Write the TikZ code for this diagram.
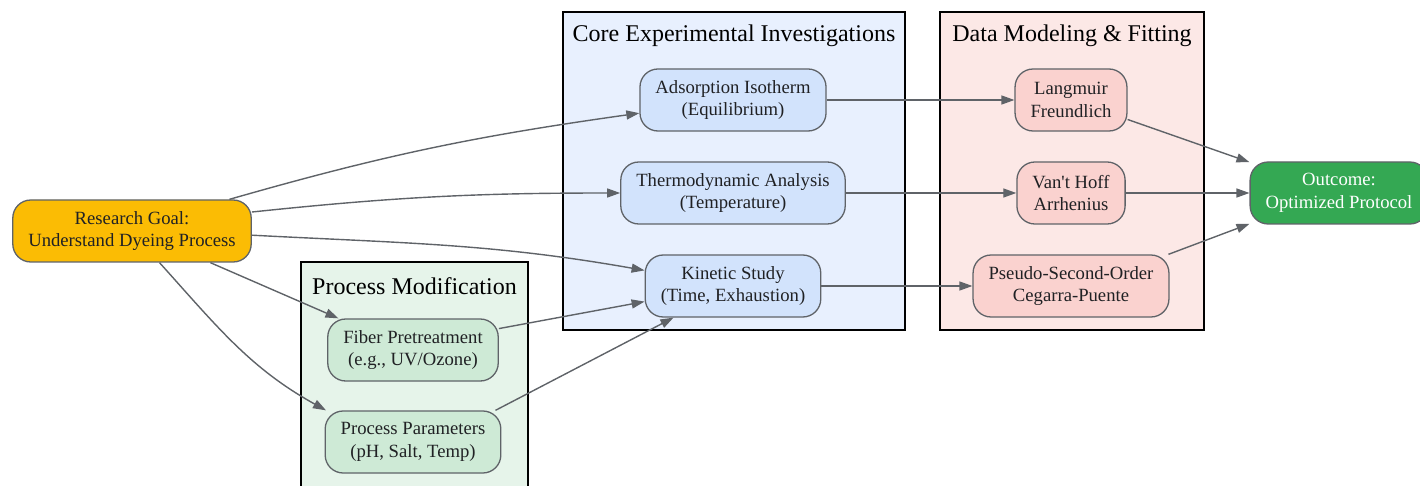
\documentclass[tikz,border=0pt]{standalone}
\usepackage{fontspec}
\setmainfont{Liberation Serif}
\usetikzlibrary{arrows.meta}
\definecolor{edgegray}{HTML}{5F6368}
\definecolor{textdark}{HTML}{202124}
\definecolor{goalfill}{HTML}{FBBC04}
\definecolor{outfill}{HTML}{34A853}
\definecolor{corefill}{HTML}{D2E3FC}
\definecolor{corebg}{HTML}{E8F0FE}
\definecolor{fitfill}{HTML}{FAD2CF}
\definecolor{fitbg}{HTML}{FCE8E6}
\definecolor{procfill}{HTML}{CEEAD6}
\definecolor{procbg}{HTML}{E6F4EA}
\begin{document}
\begin{tikzpicture}[x=1pt,y=1pt,
    >={Triangle[length=13pt,width=9pt]},
    every node/.style={font=\fontsize{18.67}{22.4}\selectfont, text=textdark},
    box/.style={draw=edgegray, line width=1.3pt, rounded corners=18pt,
      minimum height=62pt, inner xsep=15.5pt, align=center},
    goalbox/.style={box, fill=goalfill},
    procbox/.style={box, fill=procfill},
    corebox/.style={box, fill=corefill},
    fitbox/.style={box, fill=fitfill},
    outbox/.style={box, fill=outfill, text=white},
    cluster/.style={draw=black, line width=1.5pt},
    clustertitle/.style={font=\fontsize{24}{28}\selectfont, text=black},
    link/.style={->, draw=edgegray, line width=1.4pt}]
  \useasboundingbox (0,0) rectangle (1420,485);
  % clusters
  \filldraw[cluster, fill=procbg] (301,-10) rectangle (528,223);
  \filldraw[cluster, fill=corebg] (563,155) rectangle (905,473);
  \filldraw[cluster, fill=fitbg] (940,155) rectangle (1204,473);
  \node[clustertitle] (proctitle) at (414.5,199) {Process Modification};
  \node[clustertitle] (coretitle) at (734,449) {Core Experimental Investigations};
  \node[clustertitle] (fittitle) at (1072,449) {Data Modeling \& Fitting};
  % nodes
  \node[goalbox] (goal) at (132,254) {Research Goal:\\Understand Dyeing Process};
  \node[procbox] (fiber) at (413,135) {Fiber Pretreatment\\(e.g., UV/Ozone)};
  \node[procbox] (params) at (413,43) {Process Parameters\\(pH, Salt, Temp)};
  \node[corebox] (ads) at (733,385) {Adsorption Isotherm\\(Equilibrium)};
  \node[corebox] (thermo) at (733,292) {Thermodynamic Analysis\\(Temperature)};
  \node[corebox] (kin) at (733,199) {Kinetic Study\\(Time, Exhaustion)};
  \node[fitbox] (lang) at (1071,385) {Langmuir\\Freundlich};
  \node[fitbox] (vant) at (1071,292) {Van\textquotesingle t Hoff\\Arrhenius};
  \node[fitbox] (pso) at (1071,199) {Pseudo-Second-Order\\Cegarra-Puente};
  \node[outbox] (outc) at (1339,292) {Outcome:\\Optimized Protocol};
  % links
  \draw[link] (goal.18) to[out=16,in=188] (ads.188);
  \draw[link] (goal.9) to[out=6,in=180] (thermo.west);
  \draw[link] (goal.-2) to[out=-3,in=170] (kin.170);
  \draw[link] (goal.-22) -- (fiber.157);
  \draw[link] (goal.-49) to[out=-48,in=151] (params.160);
  \draw[link] (fiber.14) -- (kin.190);
  \draw[link] (params.21) -- (kin.208);
  \draw[link] (ads) -- (lang);
  \draw[link] (thermo) -- (vant);
  \draw[link] (kin) -- (pso);
  \draw[link] (lang.-19) -- (outc.161);
  \draw[link] (vant) -- (outc);
  \draw[link] (pso.18) -- (outc.199);
\end{tikzpicture}
\end{document}
